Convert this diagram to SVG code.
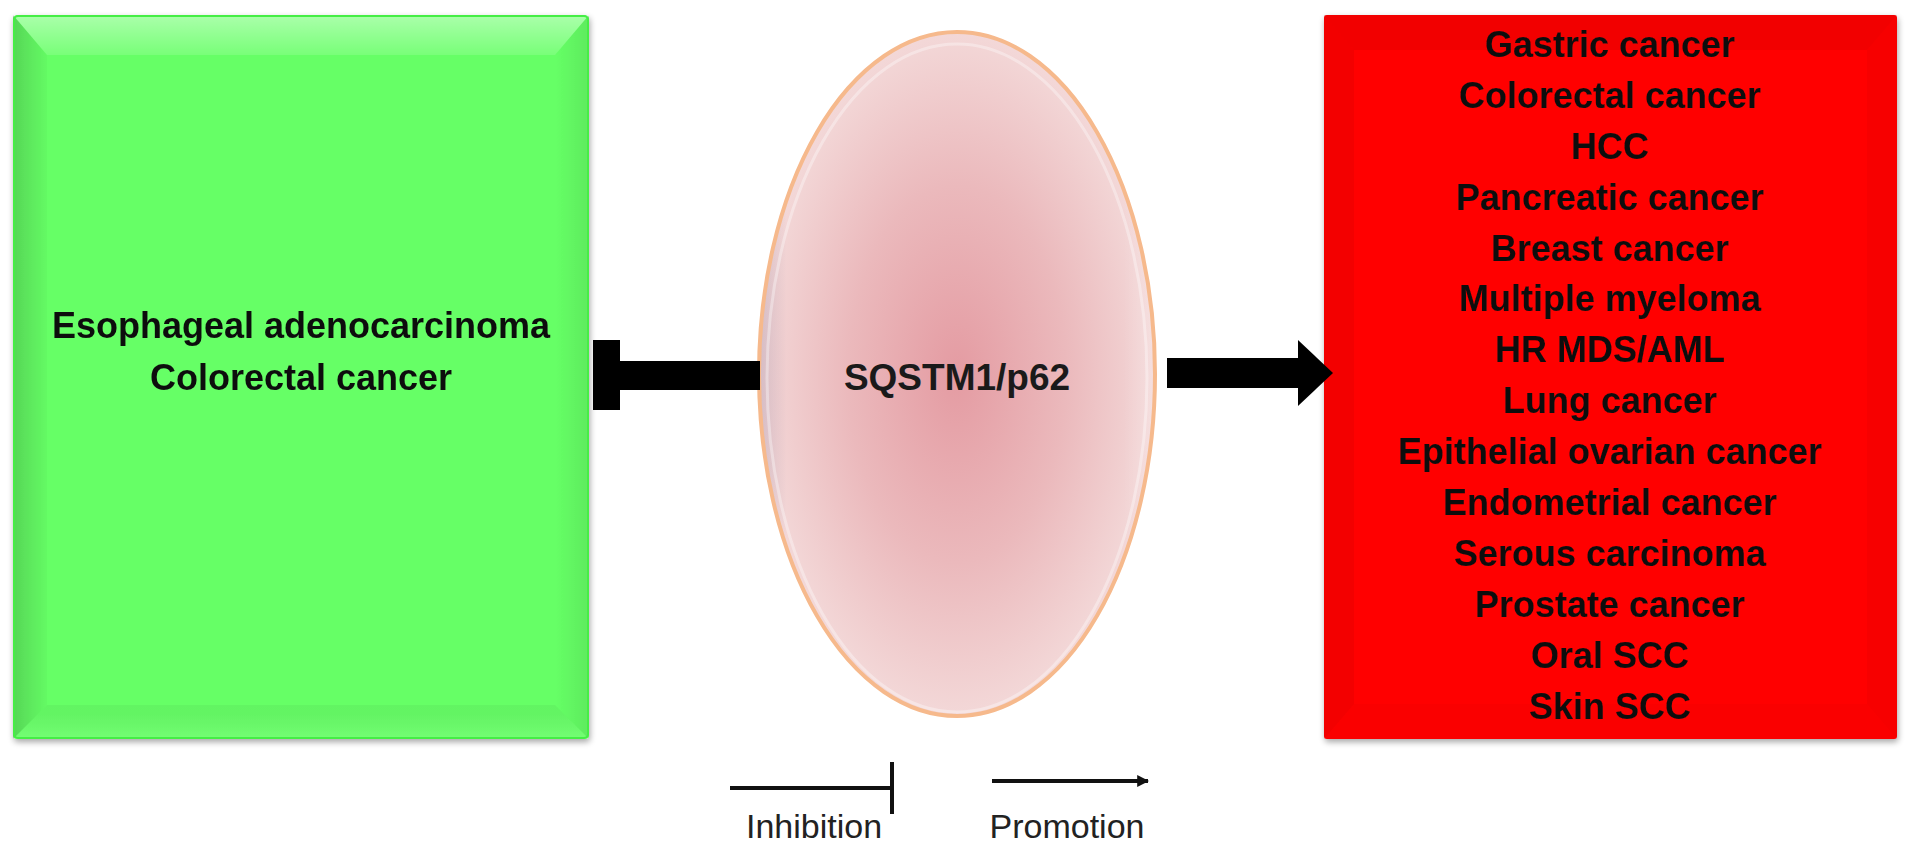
<svg xmlns="http://www.w3.org/2000/svg" width="1913" height="860" viewBox="0 0 1913 860">
  <defs>
    <style>
      .box-text { font-family: "Liberation Sans", Arial, sans-serif; font-weight: bold; font-size: 36px; fill: #111; text-anchor: middle; }
      .center-text { font-family: "Liberation Sans", Arial, sans-serif; font-weight: bold; font-size: 37px; fill: #1a1a1a; text-anchor: middle; }
      .legend-text { font-family: "Liberation Sans", Arial, sans-serif; font-size: 34px; fill: #222; text-anchor: middle; }
      .legend-line { stroke: #111; stroke-width: 4; fill: none; }
      .big-conn { fill: #000; }
    </style>
    <filter id="shadow" x="-5%" y="-5%" width="110%" height="110%">
      <feGaussianBlur in="SourceAlpha" stdDeviation="3"/>
      <feOffset dx="1" dy="3" result="b"/>
      <feComponentTransfer><feFuncA type="linear" slope="0.35"/></feComponentTransfer>
      <feMerge><feMergeNode/><feMergeNode in="SourceGraphic"/></feMerge>
    </filter>
    <linearGradient id="bevTop" x1="0" y1="0" x2="0" y2="1">
      <stop offset="0" stop-color="#fff" stop-opacity="0.45"/>
      <stop offset="1" stop-color="#fff" stop-opacity="0.12"/>
    </linearGradient>
    <linearGradient id="bevLeft" x1="0" y1="0" x2="1" y2="0">
      <stop offset="0" stop-color="#000" stop-opacity="0.16"/>
      <stop offset="1" stop-color="#000" stop-opacity="0.02"/>
    </linearGradient>
    <linearGradient id="bevBottom" x1="0" y1="1" x2="0" y2="0">
      <stop offset="0" stop-color="#fff" stop-opacity="0.10"/>
      <stop offset="1" stop-color="#000" stop-opacity="0.04"/>
    </linearGradient>
    <linearGradient id="bevRight" x1="1" y1="0" x2="0" y2="0">
      <stop offset="0" stop-color="#000" stop-opacity="0.08"/>
      <stop offset="1" stop-color="#000" stop-opacity="0.0"/>
    </linearGradient>
    <radialGradient id="ellFill" cx="0.5" cy="0.5" r="0.5">
      <stop offset="0" stop-color="#e49ba2"/>
      <stop offset="0.55" stop-color="#ebb9bc"/>
      <stop offset="1" stop-color="#f3d8d8"/>
    </radialGradient>
    <linearGradient id="ellShade" x1="0" y1="0" x2="1" y2="0">
      <stop offset="0" stop-color="#6a5a80" stop-opacity="0.22"/>
      <stop offset="0.07" stop-color="#6a5a80" stop-opacity="0.0"/>
      <stop offset="0.92" stop-color="#ffffff" stop-opacity="0.0"/>
      <stop offset="1" stop-color="#ffffff" stop-opacity="0.2"/>
    </linearGradient>
    <marker id="legendArrow" viewBox="0 0 10 10" refX="9" refY="5" markerWidth="3" markerHeight="3" orient="auto">
      <path d="M0,0 L10,5 L0,10 Z" fill="#111"/>
    </marker>
  </defs>

  <rect x="0" y="0" width="1913" height="860" fill="#ffffff"/>

  <g id="node-inhibited" filter="url(#shadow)">
    <rect x="13" y="15" width="576" height="724" rx="4" fill="#66ff66"/>
    <polygon points="13,15 589,15 555,55 47,55" fill="url(#bevTop)"/>
    <polygon points="13,15 47,55 47,705 13,739" fill="url(#bevLeft)"/>
    <polygon points="13,739 47,705 555,705 589,739" fill="url(#bevBottom)"/>
    <polygon points="589,15 589,739 555,705 555,55" fill="url(#bevRight)"/>
    <rect x="14" y="16" width="574" height="722" rx="4" fill="none" stroke="#44ee44" stroke-width="2"/>
    <text class="box-text" x="301" y="338">Esophageal adenocarcinoma</text>
    <text class="box-text" x="301" y="390">Colorectal cancer</text>
  </g>

  <g id="node-p62">
    <ellipse cx="957" cy="374" rx="198" ry="342" fill="url(#ellFill)"/>
    <ellipse cx="957" cy="374" rx="198" ry="342" fill="url(#ellShade)"/>
    <ellipse cx="957" cy="378" rx="190" ry="334" fill="none" stroke="#ffffff" stroke-opacity="0.35" stroke-width="3"/>
    <ellipse cx="957" cy="374" rx="198" ry="342" fill="none" stroke="#f6b98c" stroke-width="4"/>
    <text class="center-text" x="957" y="390">SQSTM1/p62</text>
  </g>

  <g id="node-promoted" filter="url(#shadow)">
    <rect x="1324" y="15" width="573" height="724" rx="3" fill="#ff0000"/>
    <polygon points="1324,15 1897,15 1867,50 1354,50" fill="#cc0000" fill-opacity="0.25"/>
    <polygon points="1324,15 1354,50 1354,704 1324,739" fill="#bb0000" fill-opacity="0.18"/>
    <polygon points="1897,15 1897,739 1867,704 1867,50" fill="#bb0000" fill-opacity="0.12"/>
    <polygon points="1324,739 1354,704 1867,704 1897,739" fill="#dd0000" fill-opacity="0.15"/>
    <text class="box-text" x="1610" y="57">Gastric cancer</text>
    <text class="box-text" x="1610" y="108">Colorectal cancer</text>
    <text class="box-text" x="1610" y="159">HCC</text>
    <text class="box-text" x="1610" y="210">Pancreatic cancer</text>
    <text class="box-text" x="1610" y="261">Breast cancer</text>
    <text class="box-text" x="1610" y="311">Multiple myeloma</text>
    <text class="box-text" x="1610" y="362">HR MDS/AML</text>
    <text class="box-text" x="1610" y="413">Lung cancer</text>
    <text class="box-text" x="1610" y="464">Epithelial ovarian cancer</text>
    <text class="box-text" x="1610" y="515">Endometrial cancer</text>
    <text class="box-text" x="1610" y="566">Serous carcinoma</text>
    <text class="box-text" x="1610" y="617">Prostate cancer</text>
    <text class="box-text" x="1610" y="668">Oral SCC</text>
    <text class="box-text" x="1610" y="719">Skin SCC</text>
  </g>

  <g id="connectors">
    <rect class="big-conn" x="593" y="340" width="27" height="70"/>
    <rect class="big-conn" x="618" y="361" width="142" height="29"/>
    <rect class="big-conn" x="1167" y="358" width="134" height="30"/>
    <polygon class="big-conn" points="1298,340 1333,373 1298,406"/>
  </g>

  <g id="legend">
    <line class="legend-line" x1="730" y1="788" x2="892" y2="788"/>
    <line class="legend-line" x1="892" y1="762" x2="892" y2="814"/>
    <line class="legend-line" x1="992" y1="781" x2="1148" y2="781" marker-end="url(#legendArrow)"/>
    <text class="legend-text" x="814" y="838">Inhibition</text>
    <text class="legend-text" x="1067" y="838">Promotion</text>
  </g>
</svg>
